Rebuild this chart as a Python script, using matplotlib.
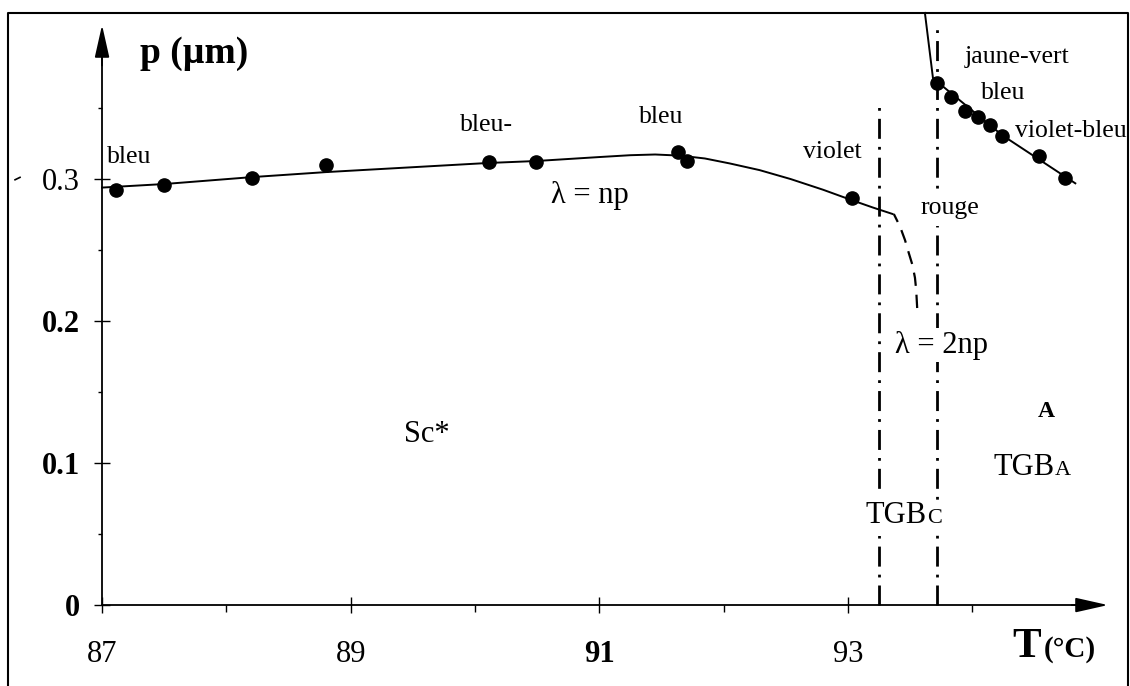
import matplotlib
matplotlib.use("Agg")
import matplotlib.pyplot as plt
from matplotlib.lines import Line2D

plt.rcParams['font.family'] = ['Liberation Serif', 'DejaVu Serif']

# Measured helical pitch in the Sc* phase
t_sc = [87.11, 87.50, 88.21, 88.80, 90.11, 90.49, 91.63, 91.71, 93.03]
p_sc = [0.292, 0.296, 0.301, 0.310, 0.312, 0.312, 0.319, 0.313, 0.287]

# Measured pitch in the TGB_A phase
t_tgba = [93.72, 93.83, 93.94, 94.05, 94.14, 94.24, 94.54, 94.75]
p_tgba = [0.368, 0.358, 0.348, 0.344, 0.338, 0.330, 0.316, 0.301]

# Guide-to-the-eye curves
t_fit_sc = [87.0, 87.5, 88.21, 88.8, 90.1, 90.49, 91.0, 91.25, 91.45, 91.65,
            91.85, 92.05, 92.29, 92.54, 92.8, 93.03, 93.2, 93.36]
p_fit_sc = [0.294, 0.2965, 0.3014, 0.3049, 0.3113, 0.3127, 0.3155, 0.3168,
            0.3173, 0.3165, 0.3145, 0.3110, 0.3063, 0.3000, 0.2925, 0.2852,
            0.2800, 0.2754]
t_fit_tgbc = [93.37, 93.42, 93.46, 93.49, 93.52, 93.54, 93.55, 93.56]
p_fit_tgbc = [0.2754, 0.2665, 0.2570, 0.2480, 0.2394, 0.2305, 0.2218, 0.2056]
t_fit_tgba = [93.62, 93.685, 94.24, 94.83]
p_fit_tgba = [0.417, 0.371, 0.331, 0.297]

# Phase boundaries (Sc*/TGBc and TGBc/TGBa)
t_boundaries = [93.25, 93.72]
p_boundary_top = [0.356, 0.41]

x_ticks = [87, 89, 91, 93]
x_minor = [88, 90, 92, 94]
y_ticks = [0, 0.1, 0.2, 0.3]
y_minor = [0.05, 0.15, 0.25, 0.35]
x_labels = ['87', '89', '91', '93']
y_labels = ['0', '0.1', '0.2', '0.3']

W, H = 1130, 686
fig = plt.figure(figsize=(W / 100, H / 100), dpi=100)
ax = fig.add_axes([0, 0, 1, 1])
ax.set_xlim(86.179, 95.270)
ax.set_ylim(-0.0570, 0.4261)
ax.patch.set_visible(False)

# axes drawn as crossing lines with arrowheads
for s in ('top', 'right'):
    ax.spines[s].set_visible(False)
ax.spines['left'].set_position(('data', 87))
ax.spines['bottom'].set_position(('data', 0))
ax.spines['left'].set_bounds(0, 0.39)
ax.spines['bottom'].set_bounds(87, 94.9)
for s in ('left', 'bottom'):
    ax.spines[s].set_linewidth(1.3)

arrow_kw = dict(arrowstyle='-|>,head_length=2.0,head_width=0.45',
                color='black', lw=1.3, mutation_scale=10,
                shrinkA=0, shrinkB=0)
ax.annotate('', xy=(87, 0.4085), xytext=(87, 0.38), arrowprops=arrow_kw)
ax.annotate('', xy=(95.093, 0), xytext=(94.8, 0), arrowprops=arrow_kw)

ax.set_xticks(x_ticks, labels=x_labels)
ax.set_xticks(x_minor, minor=True)
ax.set_yticks(y_ticks, labels=y_labels)
ax.set_yticks(y_minor, minor=True)
ax.tick_params(which='major', direction='inout', length=12, width=1,
               labelsize=22)
ax.tick_params(which='minor', direction='out', length=5, width=1)
ax.tick_params(axis='x', which='major', pad=19)
ax.tick_params(axis='y', which='major', pad=10)
ax.tick_params(axis='y', which='minor', length=3)
for lbl in ax.get_yticklabels():
    lbl.set_fontweight('normal' if lbl.get_text() == '0.3' else 'bold')
for lbl in ax.get_xticklabels():
    lbl.set_fontweight('bold' if lbl.get_text() == '91' else 'normal')

# small stroke beside the 0.3 label
ax.plot([86.30, 86.34], [0.2995, 0.3012], color='black', lw=1.2)

# axis titles
ax.text(87.306, 0.3817, 'p (µm)', fontsize=27, fontweight='bold',
        ha='left', va='baseline')
ax.text(94.55, -0.0366, 'T', fontsize=31, fontweight='bold',
        ha='right', va='baseline')
ax.text(94.58, -0.0366, '(°C)', fontsize=21, fontweight='bold',
        ha='left', va='baseline')

# phase boundaries
for tb, top in zip(t_boundaries, p_boundary_top):
    ax.plot([tb, tb], [0, top], color='black', lw=2.0,
            linestyle=(0, (7.2, 2.9, 1.0, 2.9)), zorder=2)

# guide curves
ax.plot(t_fit_sc, p_fit_sc, color='black', lw=1.4, zorder=3)
ax.plot(t_fit_tgbc, p_fit_tgbc, color='black', lw=1.6,
        linestyle=(2, (6, 4)), zorder=3)
ax.plot(t_fit_tgba, p_fit_tgba, color='black', lw=1.4, zorder=3)

# data points
ax.plot(t_sc, p_sc, 'o', color='black', ms=9.5, zorder=4)
ax.plot(t_tgba, p_tgba, 'o', color='black', ms=9.5, zorder=4)

# colour annotations
white = dict(facecolor='white', edgecolor='none', pad=1.5)
col_kw = dict(fontsize=18.5, ha='center', va='center')
ax.text(87.217, 0.3155, 'bleu', **col_kw)
ax.text(90.089, 0.338, 'bleu-', **col_kw)
ax.text(91.497, 0.3437, 'bleu', **col_kw)
ax.text(92.873, 0.319, 'violet', **col_kw)
ax.text(94.361, 0.3859, 'jaune-vert', **col_kw)
ax.text(94.249, 0.3606, 'bleu', **col_kw)
ax.text(94.345, 0.3338, 'violet-bleu', fontsize=18.5, ha='left', va='center')
ax.text(93.822, 0.2796, 'rouge', bbox=dict(white, pad=5), zorder=5, **col_kw)

# regime and phase labels
ax.text(90.926, 0.2887, 'λ = np', fontsize=22, ha='center', va='center')
ax.text(93.75, 0.1831, 'λ = 2np', fontsize=22, ha='center', va='center',
        bbox=white, zorder=5)
ax.text(89.615, 0.1204, 'Sc*', fontsize=22, ha='center', va='center')
ax.text(94.60, 0.1366, 'A', fontsize=17, fontweight='bold',
        ha='center', va='center')
ax.text(94.667, 0.0915, 'TGB', fontsize=22, ha='right', va='baseline')
ax.text(94.667, 0.0915, 'A', fontsize=16, ha='left', va='baseline')

# TGBc label: white backing first, then the glyphs on top
tgbc_parts = [('TGB', 22, 'right'), ('C', 16, 'left')]
for txt, fs, ha in tgbc_parts:
    ax.text(93.637, 0.0577, txt, fontsize=fs, ha=ha, va='baseline',
            color='white', bbox=dict(white, pad=4), zorder=5)
for txt, fs, ha in tgbc_parts:
    ax.text(93.637, 0.0577, txt, fontsize=fs, ha=ha, va='baseline',
            color='black', zorder=6)

# outer frame
fig.add_artist(Line2D([8 / W, 8 / W, 1128 / W, 1128 / W],
                      [0, 1 - 13 / H, 1 - 13 / H, 0],
                      transform=fig.transFigure, color='black', lw=1.5))

fig.savefig('out.png', dpi=100)
